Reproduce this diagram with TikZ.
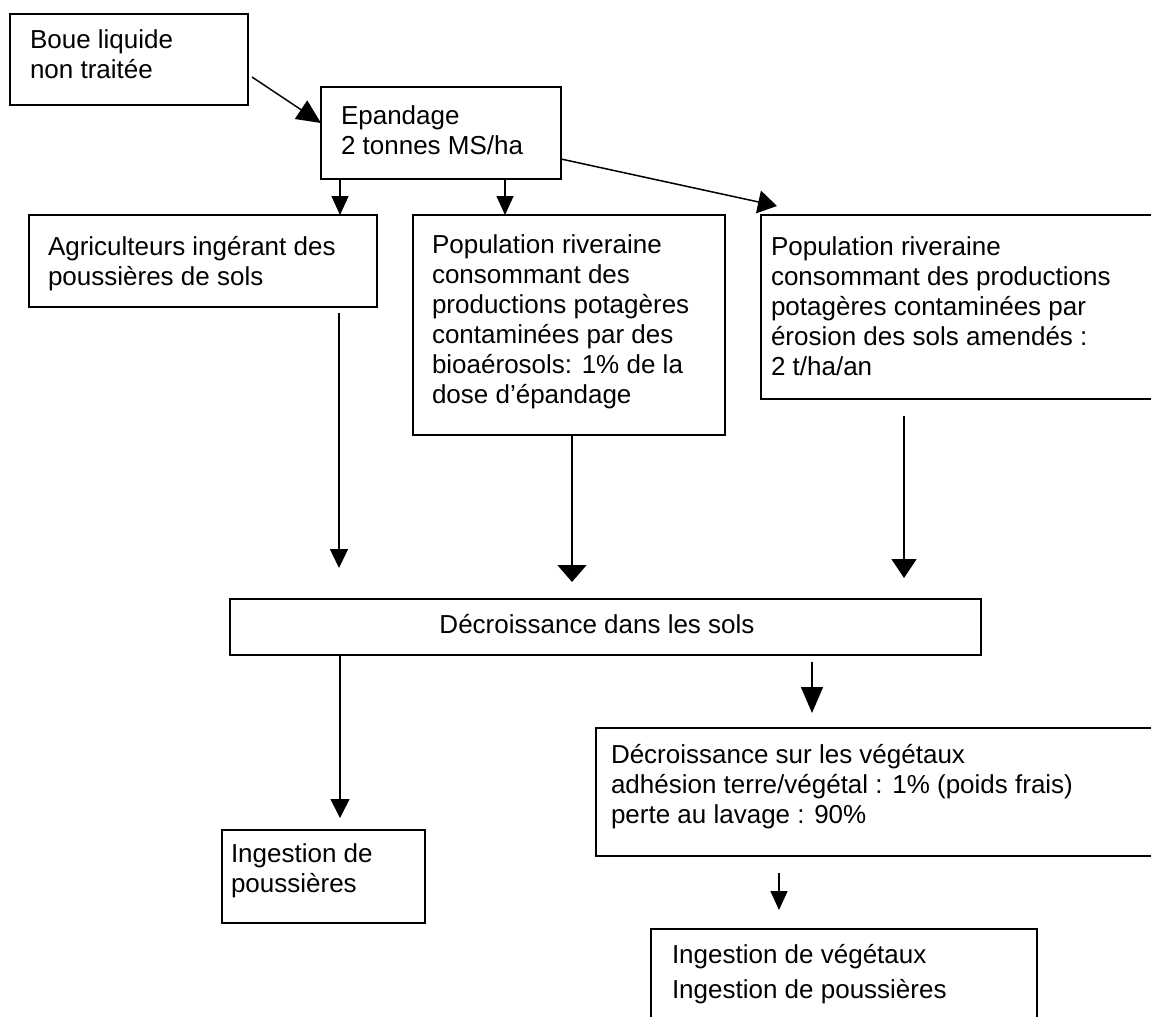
\documentclass[tikz,border=0pt]{standalone}
\usepackage{fontspec}
\setmainfont{Liberation Sans}
\usetikzlibrary{arrows.meta,calc}
\begin{document}
\begin{tikzpicture}[x=1pt,y=-1pt,
  box/.style={draw=black, line width=1.8pt, rectangle, inner sep=0pt, outer sep=0pt, anchor=north west},
  txt/.style={anchor=base west, inner sep=0pt, outer sep=0pt, font=\fontsize{26}{30}\selectfont},
  conn/.style={line width=1.5pt, -{Triangle[length=19pt,width=18pt]}}
]
\useasboundingbox (0,0) rectangle (1151,1017);
\clip (0,0) rectangle (1151,1017);
\fill[white] (0,0) rectangle (1151,1017);

% boxes
\node[box, minimum width=238pt, minimum height=91pt]  (b1) at (10,14) {};
\node[box, minimum width=240pt, minimum height=92pt]  (b2) at (321,87) {};
\node[box, minimum width=348pt, minimum height=92pt]  (b3) at (29,215) {};
\node[box, minimum width=312pt, minimum height=220pt] (b4) at (413,215) {};
\node[box, minimum width=400pt, minimum height=184pt] (b5) at (761,215) {};
\node[box, minimum width=751pt, minimum height=56pt]  (b6) at (230,599) {};
\node[box, minimum width=570pt, minimum height=128pt] (b7) at (596,728) {};
\node[box, minimum width=203pt, minimum height=93pt]  (b8) at (222,830) {};
\node[box, minimum width=386pt, minimum height=120pt] (b9) at (651,929) {};

% texts
\node[txt] (t1) at (30,48) {\begin{tabular}[t]{@{}l@{}}Boue liquide\\non traitée\end{tabular}};
\node[txt] (t2) at (341,124) {\begin{tabular}[t]{@{}l@{}}Epandage\\2 tonnes MS/ha\end{tabular}};
\node[txt] (t3) at (48,255) {\begin{tabular}[t]{@{}l@{}}Agriculteurs ingérant des\\poussières de sols\end{tabular}};
\node[txt] (t4) at (432,253) {\begin{tabular}[t]{@{}l@{}}Population riveraine\\consommant des\\productions potagères\\contaminées par des\\bioaérosols: 1\% de la\\dose d’épandage\end{tabular}};
\node[txt] (t5) at (771,255) {\begin{tabular}[t]{@{}l@{}}Population riveraine\\consommant des productions\\potagères contaminées par\\érosion des sols amendés :\\2 t/ha/an\end{tabular}};
\node[txt, anchor=base] (t6) at (597,633) {Décroissance dans les sols};
\node[txt] (t7) at (611,763) {\begin{tabular}[t]{@{}l@{}}Décroissance sur les végétaux\\adhésion terre/végétal : 1\% (poids frais)\\perte au lavage : 90\%\end{tabular}};
\node[txt] (t8) at (231,862) {\begin{tabular}[t]{@{}l@{}}Ingestion de\\poussières\end{tabular}};
\node[txt, font=\fontsize{26}{35}\selectfont] (t9) at (672,963) {\begin{tabular}[t]{@{}l@{}}Ingestion de végétaux\\Ingestion de poussières\end{tabular}};

% connectors
\draw[conn, -{Triangle[length=24pt,width=22pt]}] ($(b1.south east)+(4,-28)$) -- ($(b2.north west)+(0,36)$);
\draw[conn, -{Triangle[length=19pt,width=17pt]}] ($(b2.south west)+(19,0)$) -- ($(b3.north west)+(311,0)$);
\draw[conn, -{Triangle[length=19pt,width=17pt]}] ($(b2.south west)+(184,0)$) -- ($(b4.north west)+(92,0)$);
\draw[conn, -{Triangle[length=19pt,width=23pt]}] ($(b2.north east)+(0,72)$) -- ($(b5.north west)+(16,-9)$);
\draw[conn] ($(b3.south west)+(310,6)$) -- ($(b6.north west)+(109,-31)$);
\draw[conn, -{Triangle[length=17pt,width=29pt]}] ($(b4.south west)+(159,0)$) -- ($(b6.north west)+(342,-17)$);
\draw[conn, -{Triangle[length=19pt,width=25pt]}] ($(b5.south west)+(143,17)$) -- ($(b6.north west)+(674,-21)$);
\draw[conn, -{Triangle[length=19pt,width=19pt]}] ($(b6.south west)+(110,0)$) -- ($(b8.north west)+(118,-12)$);
\draw[conn, -{Triangle[length=26pt,width=22pt]}] ($(b6.south west)+(582,7)$) -- ($(b7.north west)+(216,-15)$);
\draw[conn, -{Triangle[length=19pt,width=17pt]}] ($(b7.south west)+(183,17)$) -- ($(b9.north west)+(128,-19)$);
\end{tikzpicture}
\end{document}
